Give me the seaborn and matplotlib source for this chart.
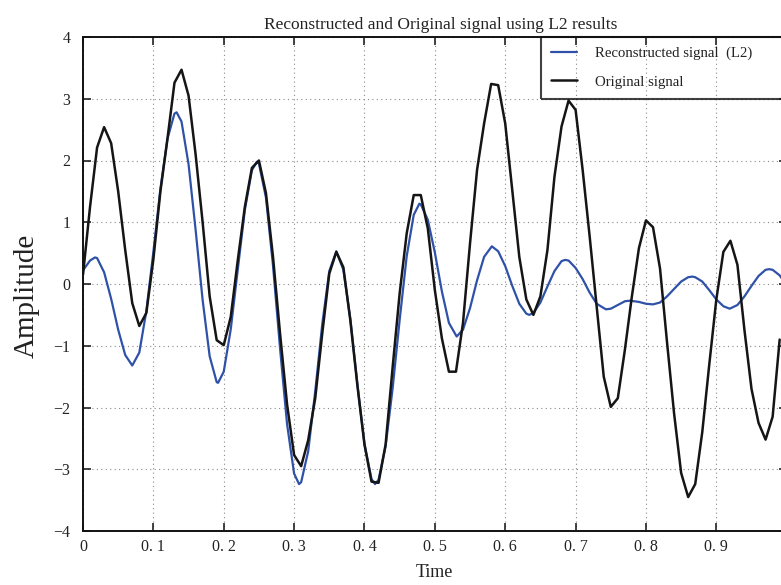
import numpy as np
import pandas as pd
import matplotlib
matplotlib.use("Agg")
import matplotlib.pyplot as plt
import seaborn as sns

# ---------------- data ----------------
orig_time = np.round(np.arange(0, 1.0, 0.01), 2)
orig_signal = [
    0.15, 1.25, 2.21, 2.54, 2.28, 1.50, 0.55, -0.31, -0.68, -0.47,
    0.40, 1.50, 2.35, 3.26, 3.47, 3.05, 2.10, 1.00, -0.20, -0.91,
    -0.99, -0.53, 0.39, 1.25, 1.88, 2.00, 1.47, 0.44, -0.80, -1.95,
    -2.77, -2.95, -2.53, -1.85, -0.80, 0.17, 0.52, 0.27, -0.60, -1.65,
    -2.60, -3.20, -3.22, -2.60, -1.35, -0.15, 0.82, 1.44, 1.44, 0.90,
    -0.10, -0.88, -1.42, -1.42, -0.63, 0.66, 1.85, 2.60, 3.24, 3.22,
    2.60, 1.52, 0.44, -0.25, -0.50, -0.20, 0.55, 1.74, 2.55, 2.97,
    2.82, 1.85, 0.77, -0.37, -1.50, -1.99, -1.85, -1.07, -0.20, 0.58,
    1.03, 0.92, 0.25, -0.95, -2.10, -3.06, -3.45, -3.24, -2.40, -1.30,
    -0.25, 0.52, 0.70, 0.31, -0.75, -1.70, -2.25, -2.52, -2.15, -0.90,
]

recon_time = [
    0.000, 0.010, 0.017, 0.020, 0.030, 0.040, 0.050, 0.060, 0.070, 0.080,
    0.090, 0.100, 0.110, 0.120, 0.130, 0.133, 0.140, 0.150, 0.160, 0.170,
    0.180, 0.190, 0.192, 0.200, 0.210, 0.220, 0.230, 0.240, 0.247, 0.250,
    0.260, 0.270, 0.280, 0.290, 0.300, 0.307, 0.310, 0.320, 0.330, 0.340,
    0.350, 0.360, 0.370, 0.380, 0.390, 0.400, 0.410, 0.415, 0.420, 0.430,
    0.440, 0.450, 0.460, 0.470, 0.478, 0.480, 0.490, 0.500, 0.510, 0.520,
    0.531, 0.540, 0.550, 0.560, 0.570, 0.581, 0.590, 0.600, 0.610, 0.620,
    0.630, 0.634, 0.640, 0.650, 0.660, 0.670, 0.680, 0.685, 0.690, 0.700,
    0.710, 0.720, 0.730, 0.743, 0.750, 0.760, 0.770, 0.777, 0.790, 0.800,
    0.810, 0.820, 0.830, 0.840, 0.850, 0.860, 0.866, 0.870, 0.880, 0.890,
    0.900, 0.910, 0.919, 0.930, 0.940, 0.950, 0.960, 0.970, 0.975, 0.980,
    0.990, 1.000,
]
recon_signal = [
    0.22, 0.38, 0.43, 0.42, 0.19, -0.24, -0.74, -1.15, -1.32, -1.11,
    -0.44, 0.52, 1.54, 2.35, 2.76, 2.78, 2.63, 1.94, 0.88, -0.26,
    -1.17, -1.59, -1.60, -1.42, -0.73, 0.24, 1.20, 1.84, 1.98, 1.95,
    1.40, 0.30, -1.04, -2.27, -3.07, -3.24, -3.21, -2.71, -1.74, -0.65,
    0.21, 0.53, 0.23, -0.57, -1.63, -2.59, -3.16, -3.24, -3.17, -2.63,
    -1.69, -0.58, 0.45, 1.12, 1.30, 1.29, 1.04, 0.51, -0.12, -0.63,
    -0.85, -0.74, -0.39, 0.06, 0.44, 0.61, 0.53, 0.29, -0.03, -0.32,
    -0.48, -0.50, -0.47, -0.30, -0.04, 0.21, 0.37, 0.39, 0.38, 0.26,
    0.08, -0.14, -0.32, -0.41, -0.40, -0.34, -0.28, -0.27, -0.29, -0.32,
    -0.33, -0.30, -0.20, -0.08, 0.04, 0.11, 0.12, 0.11, 0.04, -0.10,
    -0.25, -0.36, -0.40, -0.34, -0.20, -0.03, 0.13, 0.23, 0.24, 0.23,
    0.14, -0.02,
]

x_ticks = [0, 0.1, 0.2, 0.3, 0.4, 0.5, 0.6, 0.7, 0.8, 0.9, 1.0]
x_tick_labels = ["0", "0. 1", "0. 2", "0. 3", "0. 4", "0. 5", "0. 6", "0. 7", "0. 8", "0. 9", ""]
y_ticks = [-4, -3, -2, -1, 0, 1, 2, 3, 4]
y_tick_labels = ["\u22124", "\u22123", "\u22122", "\u22121", "0", "1", "2", "3", "4"]

title_text = "Reconstructed and Original signal using L2 results"
recon_label = "Reconstructed signal  (L2)"
orig_label = "Original signal"

# ---------------- style ----------------
sns.set_theme(style="white")
plt.rcParams["font.family"] = ["Liberation Serif", "DejaVu Serif"]
plt.rcParams["axes.unicode_minus"] = True

BLUE = "#2f52a8"
BLACK = "#151515"

fig = plt.figure(figsize=(7.81, 5.85), dpi=100)
W, H = 781.0, 585.0
ax = fig.add_axes([83 / W, 54 / H, 703.7 / W, 494 / H])

recon_df = pd.DataFrame({"Time": recon_time, "Amplitude": recon_signal})
orig_df = pd.DataFrame({"Time": orig_time, "Amplitude": orig_signal})

sns.lineplot(data=recon_df, x="Time", y="Amplitude", ax=ax, color=BLUE,
             linewidth=1.6, label=recon_label, estimator=None, sort=False)
sns.lineplot(data=orig_df, x="Time", y="Amplitude", ax=ax, color=BLACK,
             linewidth=1.8, label=orig_label, estimator=None, sort=False)

ax.set_xlim(0, 1.0)
ax.set_ylim(-4, 4)
ax.set_xticks(x_ticks)
ax.set_xticklabels(x_tick_labels)
ax.set_yticks(y_ticks)
ax.set_yticklabels(y_tick_labels)

ax.grid(True, linestyle=(0, (1, 3)), color="#8a8a8a", linewidth=0.8)
ax.set_axisbelow(True)

ax.tick_params(axis="both", direction="in", length=6, width=1.2, top=True, right=True,
               labelsize=11.5, colors="#222222", bottom=True, left=True)
ax.tick_params(axis="x", pad=6)
ax.tick_params(axis="y", pad=9)
for sp in ax.spines.values():
    sp.set_visible(True)
    sp.set_color("#111111")
    sp.set_linewidth(1.4)

ax.set_title(title_text, fontsize=12.5, pad=6, x=0.508, color="#222222")
ax.set_xlabel("Time", fontsize=13, labelpad=6, color="#222222")
ax.set_ylabel("Amplitude", fontsize=21, labelpad=10, color="#222222")
ax.yaxis.set_label_coords(-0.062, 0.475)

leg = ax.legend(loc="upper left", bbox_to_anchor=(0.651, 0.87, 0.349, 0.13), mode="expand",
                borderaxespad=0, frameon=True, fancybox=False, fontsize=10.6,
                handlelength=1.77, handletextpad=1.22, borderpad=0.68, labelspacing=1.0)
frame = leg.get_frame()
frame.set_edgecolor("#111111")
frame.set_linewidth(1.5)
frame.set_facecolor("none")
for t in leg.get_texts():
    t.set_color("#222222")

fig.savefig("out.png", dpi=100)
